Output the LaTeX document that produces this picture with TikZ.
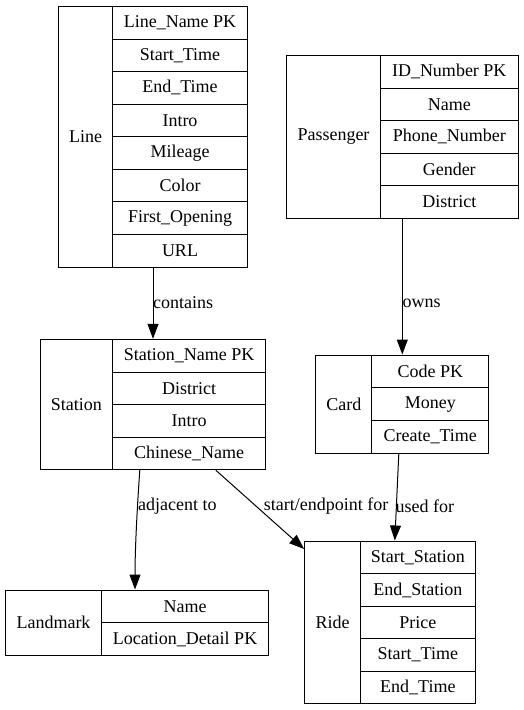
\documentclass[tikz,border=0pt]{standalone}
\usepackage{fontspec}
\setmainfont{Liberation Serif}
\usetikzlibrary{arrows.meta,fit,calc}
\tikzset{
  cell/.style={draw=black, line width=1pt, inner sep=0pt, font=\fontsize{18}{21}\selectfont, align=center},
  edge/.style={draw=black, line width=1pt, -{Triangle[length=15pt,width=11pt]}},
  lbl/.style={font=\fontsize{18}{21}\selectfont, inner sep=0pt}
}
\newcommand{\erent}[9]{%
  \node[cell, minimum width={(#4-#2)*1pt}, minimum height={(#6-#3)*1pt}, anchor=north west] (#1-h) at (#2,#3) {#7};
  \foreach \t [count=\i] in {#9} {
    \node[cell, minimum width={(#5-#4)*1pt}, minimum height={(#6-#3)/#8*1pt}, anchor=north west] (#1-\i) at ({#4},{#3+(\i-1)*(#6-#3)/#8}) {\t};
  }
  \node[fit=(#1-h)(#1-1)(#1-#8), inner sep=0pt] (#1) {};
}
\begin{document}
\begin{tikzpicture}[x=1pt,y=-1pt]
\useasboundingbox (0,0) rectangle (523,710);
\erent{line}{58}{6}{112}{247}{266.5}{Line}{8}{Line\_Name PK,Start\_Time,End\_Time,Intro,Mileage,Color,First\_Opening,URL}
\erent{pass}{286}{55}{380}{517.5}{217.7}{Passenger}{5}{ID\_Number PK,Name,Phone\_Number,Gender,District}
\erent{station}{39.7}{339}{112}{265.3}{469}{Station}{4}{Station\_Name PK,District,Intro,Chinese\_Name}
\erent{card}{315.3}{354.7}{371.3}{488.3}{452.7}{Card}{3}{Code PK,Money,Create\_Time}
\erent{land}{4.7}{589.7}{101.3}{267.7}{654.7}{Landmark}{2}{Name,Location\_Detail PK}
\erent{ride}{304.3}{540.7}{359.7}{475}{703.3}{Ride}{5}{Start\_Station,End\_Station,Price,Start\_Time,End\_Time}

\draw[edge] (station.north |- line.south) -- (station.north);
\node[lbl, anchor=west] (l1) at (153,303) {contains};

\draw[edge] (card.north |- pass.south) -- (card.north);
\node[lbl, anchor=west] (l2) at (402.5,303) {owns};

\draw[edge] ($(station.south west)+(100.3,0)$) .. controls (137,510) and (135,550) .. ($(land.north west)+(130.5,0)$);
\node[lbl, anchor=west] (l3) at (138,506) {adjacent to};

\draw[edge] ($(station.south west)+(176.3,0)$) -- ($(ride.north west)+(0,8.5)$);
\node[lbl] (l4) at (326,506) {start/endpoint for};

\draw[edge] ($(card.south)+(-3.5,0)$) -- ($(ride.north west)+(90.7,0)$);
\node[lbl, anchor=west] (l5) at (395.5,506) {used for};
\end{tikzpicture}
\end{document}
